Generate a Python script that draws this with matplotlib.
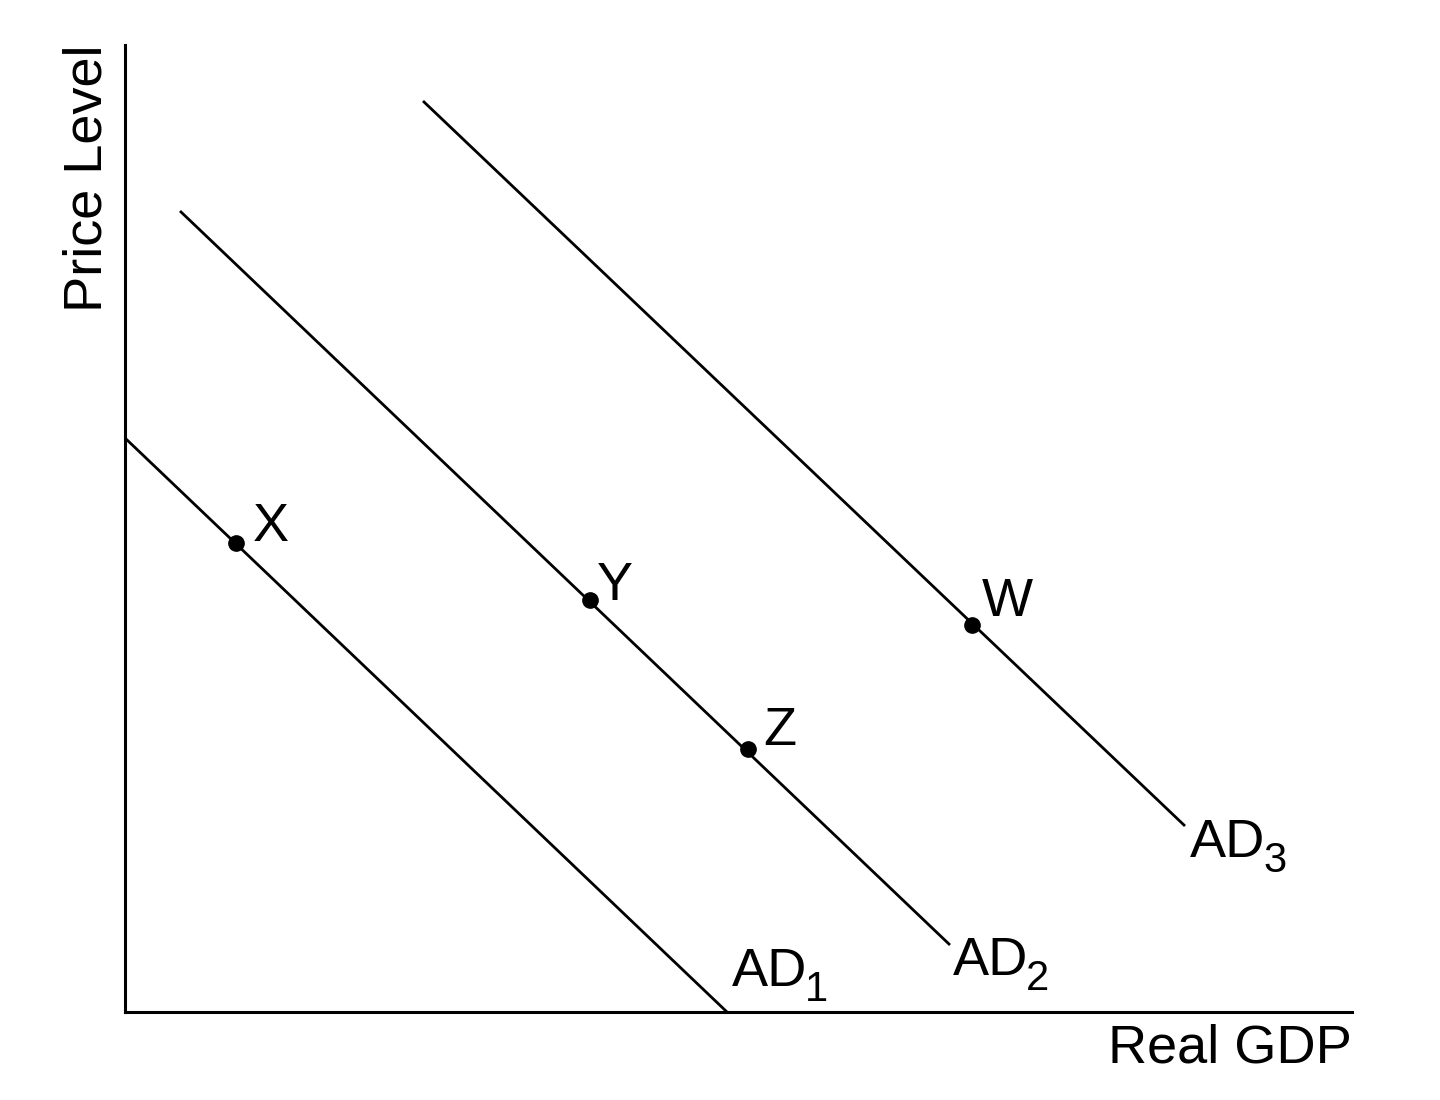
import matplotlib
matplotlib.use("Agg")
import matplotlib.pyplot as plt

plt.rcParams['font.family'] = ['Liberation Sans', 'DejaVu Sans']

# Curves (endpoints, arbitrary units)
curve_names = ['AD', 'AD', 'AD']
curve_subs = ['1', '2', '3']
curve_x = [[0, 602], [55, 825], [298, 1060]]
curve_y = [[574, 0], [801, 67], [911, 186]]

# Points
point_names = ['X', 'Y', 'Z', 'W']
point_x = [111, 465, 623, 847]
point_y = [469, 412, 263, 387]

x_label = 'Real GDP'
y_label = 'Price Level'

FS = 39
SUB_FS = 30

fig = plt.figure(figsize=(14.4, 11), dpi=100)
ax = fig.add_axes([125/1440, 88/1100, 1227/1440, 967/1100])
ax.set_xlim(0, 1227)
ax.set_ylim(0, 967)

label_offsets = [(5, 26), (3, -30), (5, -31)]
for name, sub, xs, ys, off in zip(curve_names, curve_subs, curve_x, curve_y, label_offsets):
    ax.plot(xs, ys, color='black', lw=2.0, solid_capstyle='butt')
    ax.annotate(name, xy=(xs[-1], ys[-1]), xytext=off,
                textcoords='offset pixels', fontsize=FS, ha='left', va='baseline')
    ax.annotate(sub, xy=(xs[-1], ys[-1]), xytext=(off[0] + 73, off[1] - 15),
                textcoords='offset pixels', fontsize=SUB_FS, ha='left', va='baseline')

ax.plot(point_x, point_y, 'o', color='black', markersize=11, zorder=5)
pt_offsets = {'X': (17, 2), 'Y': (7, 0), 'Z': (15, 4), 'W': (10, 9)}
for name, px, py in zip(point_names, point_x, point_y):
    ax.annotate(name, xy=(px, py), xytext=pt_offsets[name], textcoords='offset pixels',
                fontsize=FS, ha='left', va='baseline')

for s in ['top', 'right']:
    ax.spines[s].set_visible(False)
for s in ['left', 'bottom']:
    ax.spines[s].set_linewidth(2.2)
ax.set_xticks([])
ax.set_yticks([])

ax.text(1.0, -0.052, x_label, transform=ax.transAxes, ha='right', va='baseline', fontsize=FS)
ax.text(-0.0305, 1.0, y_label, transform=ax.transAxes, ha='center', va='top', rotation=90, fontsize=FS)

fig.savefig('out.png', dpi=100, facecolor='white')
